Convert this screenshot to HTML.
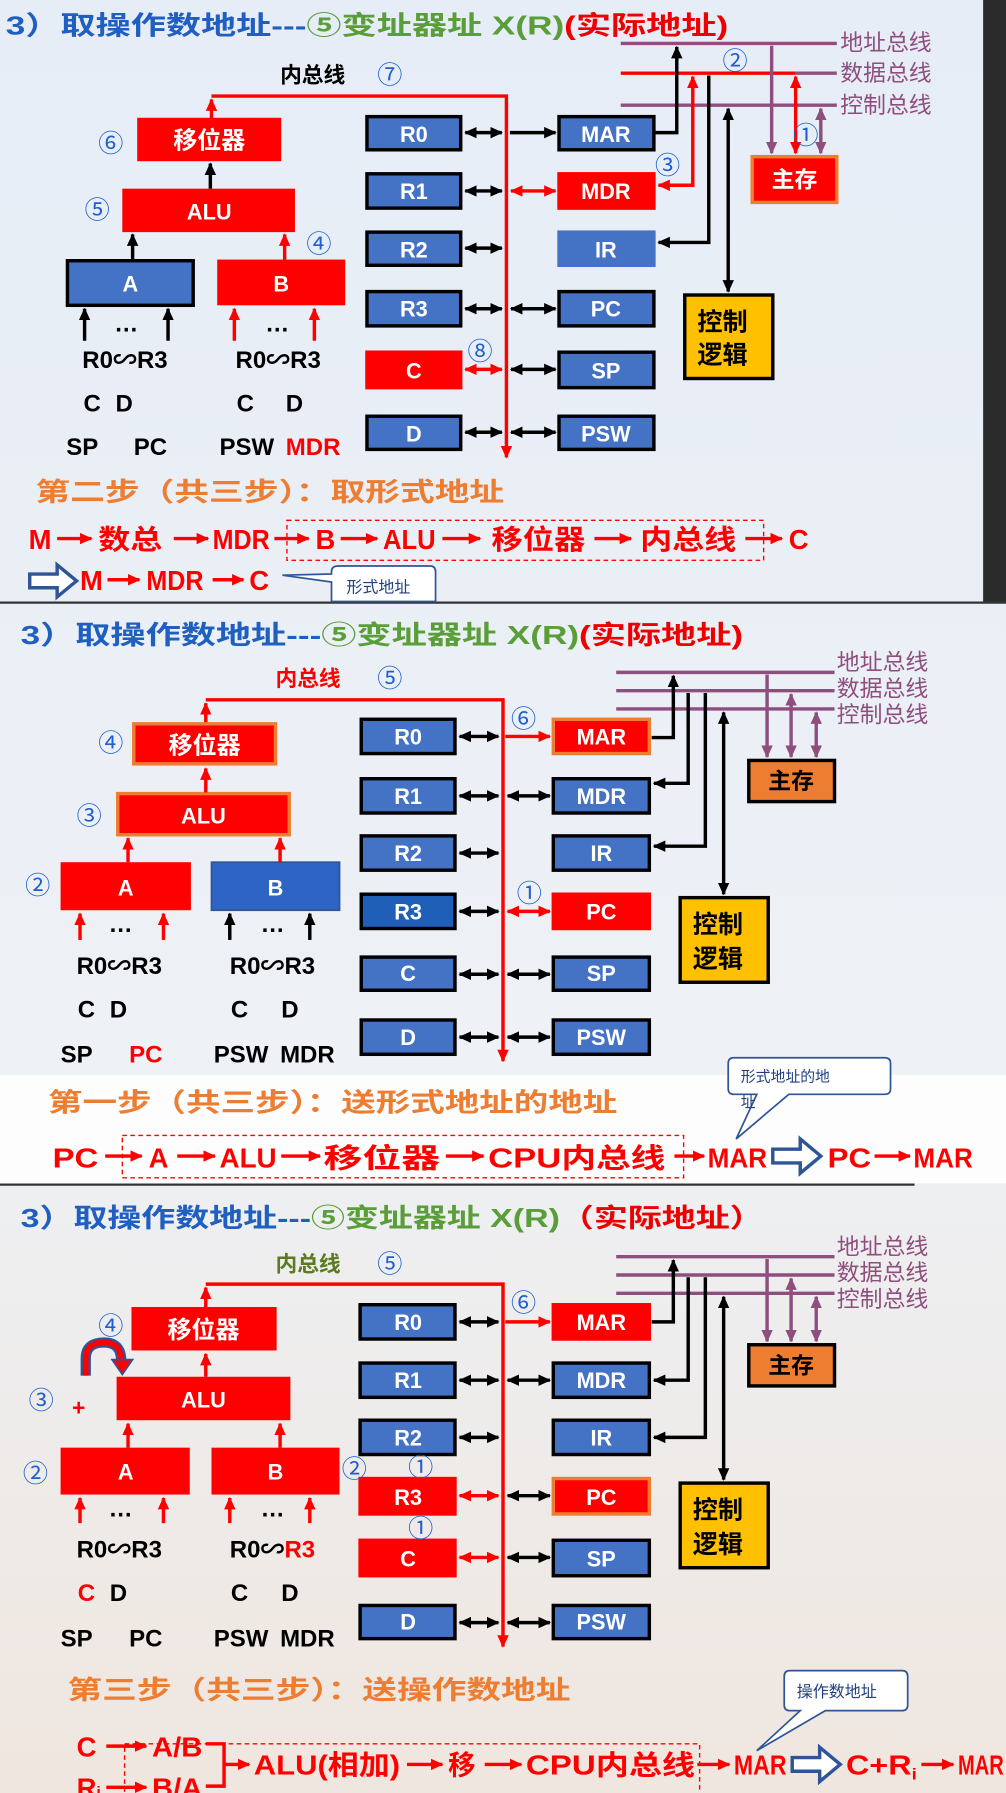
<!DOCTYPE html>
<html><head><meta charset="utf-8"><style>
html,body{margin:0;padding:0;width:1006px;height:1793px;overflow:hidden;background:#eef2f7}
svg{display:block}
text{font-family:"Liberation Sans","Noto Sans CJK SC",sans-serif}
.rg{fill:#fff;font-size:19px;font-weight:bold;text-anchor:middle}
.bl{fill:#1f5fd0;font-size:22px;font-family:"Noto Sans CJK SC","DejaVu Sans",sans-serif}
.lb{font-size:21px;font-weight:bold;fill:#000}
.bus{fill:#8e4f7e;font-size:20px}
.fl{fill:#f00;font-weight:bold;font-size:24px}
</style></head><body>
<svg width="1006" height="1793" viewBox="0 0 880 1568" preserveAspectRatio="none" xmlns="http://www.w3.org/2000/svg">
<defs>
<linearGradient id="bg" x1="0" y1="0" x2="0" y2="1"><stop offset="0" stop-color="#e6edf7"/><stop offset="0.6" stop-color="#eef1f5"/><stop offset="1" stop-color="#efe6df"/></linearGradient>
<marker id="k" markerUnits="userSpaceOnUse" markerWidth="12" markerHeight="12" refX="10" refY="6" orient="auto-start-reverse"><path d="M0,1 L11,6 L0,11 Z" fill="#000"/></marker>
<marker id="r" markerUnits="userSpaceOnUse" markerWidth="12" markerHeight="12" refX="10" refY="6" orient="auto-start-reverse"><path d="M0,1 L11,6 L0,11 Z" fill="#f00"/></marker>
<marker id="p" markerUnits="userSpaceOnUse" markerWidth="12" markerHeight="12" refX="10" refY="6" orient="auto-start-reverse"><path d="M0,1 L11,6 L0,11 Z" fill="#8e4f7e"/></marker>
</defs>
<rect width="880" height="1568" fill="url(#bg)"/>
<rect x="860" y="0" width="20" height="526" fill="#2a2a2a"/>
<line x1="0" y1="527" x2="880" y2="527" stroke="#333" stroke-width="2"/>
<line x1="0" y1="1036" x2="800" y2="1036" stroke="#333" stroke-width="2"/>

<!-- ================= PANEL 1 ================= -->
<text x="5" y="30" font-size="23" font-weight="bold" textLength="632" lengthAdjust="spacingAndGlyphs"><tspan fill="#1f5fbf">3）取操作数地址---</tspan><tspan fill="#5a9e3a">⑤变址器址 X(R)</tspan><tspan fill="#e00">(实际地址)</tspan></text>
<g stroke-width="3" fill="none">
<line x1="543" y1="38" x2="732" y2="38" stroke="#8e4f7e"/>
<line x1="543" y1="64" x2="696" y2="64" stroke="#f00"/>
<line x1="696" y1="64" x2="732" y2="64" stroke="#8e4f7e"/>
<line x1="543" y1="92" x2="732" y2="92" stroke="#8e4f7e"/>
<polyline points="573,116 592,116 592,41" stroke="#000" marker-end="url(#k)"/>
<polyline points="576,162 606,162 606,67" stroke="#f00" marker-start="url(#r)" marker-end="url(#r)"/>
<polyline points="620,66 620,212 576,212" stroke="#000" marker-end="url(#k)"/>
<line x1="637" y1="95" x2="637" y2="255" stroke="#000" marker-start="url(#k)" marker-end="url(#k)"/>
<line x1="675" y1="40" x2="675" y2="134" stroke="#8e4f7e" marker-end="url(#p)"/>
<line x1="696" y1="67" x2="696" y2="134" stroke="#f00" marker-start="url(#r)" marker-end="url(#r)"/>
<line x1="718" y1="95" x2="718" y2="134" stroke="#8e4f7e" marker-start="url(#p)" marker-end="url(#p)"/>
<line x1="185" y1="104" x2="185" y2="87" stroke="#f00" marker-end="url(#r)"/>
<polyline points="185,84 443,84 443,400" stroke="#f00" marker-end="url(#r)"/>
</g>
<text x="735" y="44" class="bus">地址总线</text><text x="735" y="71" class="bus">数据总线</text><text x="735" y="99" class="bus">控制总线</text>
<rect x="658" y="137" width="74" height="40" fill="#f00" stroke="#ed7d31" stroke-width="3"/><text x="695" y="164" fill="#fff" font-size="20" text-anchor="middle" font-weight="bold">主存</text>
<rect x="599" y="258" width="77" height="73" fill="#ffc000" stroke="#000" stroke-width="3"/><text x="610" y="289" font-size="22" font-weight="bold">控制</text><text x="610" y="318" font-size="22" font-weight="bold">逻辑</text>
<text x="632" y="61" class="bl">②</text><text x="573" y="152" class="bl">③</text><text x="694" y="126" class="bl">①</text>
<g stroke="#000" stroke-width="3">
<rect x="321" y="102" width="82" height="29" fill="#4472c4"/><rect x="321" y="152" width="82" height="30" fill="#4472c4"/><rect x="321" y="203" width="82" height="29" fill="#4472c4"/><rect x="321" y="255" width="82" height="30" fill="#4472c4"/><rect x="321" y="308" width="82" height="31" fill="#f00" stroke="#f00"/><rect x="321" y="364" width="82" height="29" fill="#4472c4"/>
<rect x="489" y="102" width="83" height="29" fill="#4472c4"/><rect x="489" y="152" width="83" height="30" fill="#f00" stroke="#f00"/><rect x="489" y="203" width="83" height="29" fill="#4472c4" stroke="#4472c4"/><rect x="489" y="255" width="83" height="30" fill="#4472c4"/><rect x="489" y="308" width="83" height="31" fill="#4472c4"/><rect x="489" y="364" width="83" height="29" fill="#4472c4"/>
</g>
<text x="362" y="124" class="rg">R0</text><text x="362" y="174" class="rg">R1</text><text x="362" y="225" class="rg">R2</text><text x="362" y="277" class="rg">R3</text><text x="362" y="331" class="rg">C</text><text x="362" y="386" class="rg">D</text>
<text x="530" y="124" class="rg">MAR</text><text x="530" y="174" class="rg">MDR</text><text x="530" y="225" class="rg">IR</text><text x="530" y="277" class="rg">PC</text><text x="530" y="331" class="rg">SP</text><text x="530" y="386" class="rg">PSW</text>
<g stroke-width="3">
<line x1="407" y1="116" x2="439" y2="116" stroke="#000" marker-start="url(#k)" marker-end="url(#k)"/>
<line x1="407" y1="167" x2="439" y2="167" stroke="#000" marker-start="url(#k)" marker-end="url(#k)"/>
<line x1="407" y1="217" x2="439" y2="217" stroke="#000" marker-start="url(#k)" marker-end="url(#k)"/>
<line x1="407" y1="270" x2="439" y2="270" stroke="#000" marker-start="url(#k)" marker-end="url(#k)"/>
<line x1="407" y1="323" x2="439" y2="323" stroke="#f00" marker-start="url(#r)" marker-end="url(#r)"/>
<line x1="407" y1="378" x2="439" y2="378" stroke="#000" marker-start="url(#k)" marker-end="url(#k)"/>
<line x1="446" y1="116" x2="486" y2="116" stroke="#000" marker-end="url(#k)"/>
<line x1="447" y1="167" x2="486" y2="167" stroke="#f00" marker-start="url(#r)" marker-end="url(#r)"/>
<line x1="447" y1="270" x2="486" y2="270" stroke="#000" marker-start="url(#k)" marker-end="url(#k)"/>
<line x1="447" y1="323" x2="486" y2="323" stroke="#000" marker-start="url(#k)" marker-end="url(#k)"/>
<line x1="447" y1="378" x2="486" y2="378" stroke="#000" marker-start="url(#k)" marker-end="url(#k)"/>
</g>
<rect x="120" y="103" width="126" height="38" fill="#f00"/><text x="183" y="130" fill="#fff" font-size="21" text-anchor="middle" font-weight="bold">移位器</text>
<rect x="107" y="165" width="151" height="38" fill="#f00"/><text x="183" y="192" class="rg">ALU</text>
<rect x="59" y="228" width="110" height="39" fill="#4472c4" stroke="#000" stroke-width="3"/><text x="114" y="255" class="rg">A</text>
<rect x="190" y="227" width="112" height="40" fill="#f00"/><text x="246" y="255" class="rg">B</text>
<g stroke-width="3">
<line x1="184" y1="165" x2="184" y2="143" stroke="#000" marker-end="url(#k)"/>
<line x1="116" y1="227" x2="116" y2="205" stroke="#000" marker-end="url(#k)"/>
<line x1="249" y1="227" x2="249" y2="205" stroke="#f00" marker-end="url(#r)"/>
<line x1="74" y1="298" x2="74" y2="270" stroke="#000" marker-end="url(#k)"/>
<line x1="147" y1="298" x2="147" y2="270" stroke="#000" marker-end="url(#k)"/>
<line x1="205" y1="298" x2="205" y2="270" stroke="#f00" marker-end="url(#r)"/>
<line x1="275" y1="298" x2="275" y2="270" stroke="#f00" marker-end="url(#r)"/>
</g>
<text x="100" y="290" class="lb">…</text><text x="232" y="290" class="lb">…</text>
<text x="72" y="322" class="lb">R0∽R3</text><text x="206" y="322" class="lb">R0∽R3</text>
<text x="73" y="360" class="lb">C</text><text x="101" y="360" class="lb">D</text><text x="207" y="360" class="lb">C</text><text x="250" y="360" class="lb">D</text>
<text x="58" y="398" class="lb">SP</text><text x="117" y="398" class="lb">PC</text><text x="192" y="398" class="lb">PSW</text><text x="250" y="398" class="lb" style="fill:#f00">MDR</text>
<text x="86" y="133" class="bl">⑥</text><text x="74" y="191" class="bl">⑤</text><text x="268" y="221" class="bl">④</text><text x="409" y="315" class="bl">⑧</text>
<text x="245" y="72" font-size="19" font-weight="bold">内总线</text><text x="330" y="73" class="bl">⑦</text>
<text x="31" y="438" fill="#ed7d31" font-size="23" font-weight="bold" textLength="410" lengthAdjust="spacingAndGlyphs">第二步（共三步）：取形式地址</text>
<rect x="251" y="455" width="417" height="35" fill="none" stroke="#f00" stroke-width="1.2" stroke-dasharray="4,3"/>
<text x="25" y="480" class="fl">M</text><text x="86" y="480" class="fl" textLength="56" lengthAdjust="spacingAndGlyphs">数总</text><text x="186" y="480" class="fl" textLength="50" lengthAdjust="spacingAndGlyphs">MDR</text><text x="276" y="480" class="fl">B</text><text x="335" y="480" class="fl" textLength="46" lengthAdjust="spacingAndGlyphs">ALU</text><text x="430" y="480" class="fl" textLength="82" lengthAdjust="spacingAndGlyphs">移位器</text><text x="560" y="480" class="fl" textLength="84" lengthAdjust="spacingAndGlyphs">内总线</text><text x="690" y="480" class="fl">C</text>
<text x="70" y="516" class="fl">M</text><text x="128" y="516" class="fl" textLength="50" lengthAdjust="spacingAndGlyphs">MDR</text><text x="218" y="516" class="fl">C</text>
<g stroke="#f00" stroke-width="3">
<line x1="50" y1="471" x2="80" y2="471" marker-end="url(#r)"/><line x1="152" y1="471" x2="182" y2="471" marker-end="url(#r)"/><line x1="240" y1="471" x2="270" y2="471" marker-end="url(#r)"/><line x1="298" y1="471" x2="330" y2="471" marker-end="url(#r)"/><line x1="387" y1="471" x2="420" y2="471" marker-end="url(#r)"/><line x1="520" y1="471" x2="552" y2="471" marker-end="url(#r)"/><line x1="652" y1="471" x2="684" y2="471" marker-end="url(#r)"/>
<line x1="94" y1="507" x2="122" y2="507" marker-end="url(#r)"/><line x1="186" y1="507" x2="213" y2="507" marker-end="url(#r)"/>
</g>
<polygon points="26,502 50,502 50,494 67,508 50,522 50,514 26,514" fill="#fff" stroke="#2f5597" stroke-width="3"/>
<path d="M296,495 H376 Q381,495 381,500 V526 H290 V509 L247,503 L290,502 V500 Q290,495 296,495 Z" fill="#fff" stroke="#2f5597" stroke-width="1.5"/>
<text x="303" y="518" fill="#1f3f7f" font-size="14">形式地址</text>

<!-- ================= PANEL 2 ================= -->
<text x="18" y="563" font-size="23" font-weight="bold" textLength="632" lengthAdjust="spacingAndGlyphs"><tspan fill="#1f5fbf">3）取操作数地址---</tspan><tspan fill="#5a9e3a">⑤变址器址 X(R)</tspan><tspan fill="#e00">(实际地址)</tspan></text>
<g stroke-width="3" fill="none">
<line x1="539" y1="588" x2="730" y2="588" stroke="#8e4f7e"/>
<line x1="539" y1="604" x2="730" y2="604" stroke="#8e4f7e"/>
<line x1="539" y1="620" x2="730" y2="620" stroke="#8e4f7e"/>
<polyline points="570,645 589,645 589,591" stroke="#000" marker-end="url(#k)"/>
<polyline points="602,606 602,685 572,685" stroke="#000" marker-end="url(#k)"/>
<polyline points="617,606 617,740 572,740" stroke="#000" marker-end="url(#k)"/>
<line x1="633" y1="623" x2="633" y2="782" stroke="#000" marker-start="url(#k)" marker-end="url(#k)"/>
<line x1="671" y1="590" x2="671" y2="662" stroke="#8e4f7e" marker-end="url(#p)"/>
<line x1="692" y1="607" x2="692" y2="662" stroke="#8e4f7e" marker-start="url(#p)" marker-end="url(#p)"/>
<line x1="714" y1="623" x2="714" y2="662" stroke="#8e4f7e" marker-start="url(#p)" marker-end="url(#p)"/>
<line x1="180" y1="632" x2="180" y2="615" stroke="#f00" marker-end="url(#r)"/>
<polyline points="180,612 440,612 440,928" stroke="#f00" marker-end="url(#r)"/>
</g>
<text x="732" y="586" class="bus">地址总线</text><text x="732" y="609" class="bus">数据总线</text><text x="732" y="632" class="bus">控制总线</text>
<rect x="655" y="665" width="75" height="36" fill="#ed7d31" stroke="#000" stroke-width="3"/><text x="692" y="690" font-size="20" text-anchor="middle" font-weight="bold">主存</text>
<rect x="595" y="785" width="77" height="74" fill="#ffc000" stroke="#000" stroke-width="3"/><text x="606" y="816" font-size="22" font-weight="bold">控制</text><text x="606" y="846" font-size="22" font-weight="bold">逻辑</text>
<g stroke="#000" stroke-width="3">
<rect x="316" y="629" width="82" height="30" fill="#4472c4"/><rect x="316" y="681" width="82" height="30" fill="#4472c4"/><rect x="316" y="731" width="82" height="30" fill="#4472c4"/><rect x="316" y="782" width="82" height="30" fill="#1f5fb8"/><rect x="316" y="837" width="82" height="29" fill="#4472c4"/><rect x="316" y="892" width="82" height="30" fill="#4472c4"/>
<rect x="484" y="629" width="84" height="30" fill="#f00" stroke="#ed7d31"/><rect x="484" y="681" width="84" height="30" fill="#4472c4"/><rect x="484" y="731" width="84" height="30" fill="#4472c4"/><rect x="484" y="782" width="84" height="30" fill="#f00" stroke="#f00"/><rect x="484" y="837" width="84" height="29" fill="#4472c4"/><rect x="484" y="892" width="84" height="30" fill="#4472c4"/>
</g>
<text x="357" y="651" class="rg">R0</text><text x="357" y="703" class="rg">R1</text><text x="357" y="753" class="rg">R2</text><text x="357" y="804" class="rg">R3</text><text x="357" y="858" class="rg">C</text><text x="357" y="914" class="rg">D</text>
<text x="526" y="651" class="rg">MAR</text><text x="526" y="703" class="rg">MDR</text><text x="526" y="753" class="rg">IR</text><text x="526" y="804" class="rg">PC</text><text x="526" y="858" class="rg">SP</text><text x="526" y="914" class="rg">PSW</text>
<g stroke-width="3">
<line x1="402" y1="644" x2="436" y2="644" stroke="#000" marker-start="url(#k)" marker-end="url(#k)"/>
<line x1="402" y1="696" x2="436" y2="696" stroke="#000" marker-start="url(#k)" marker-end="url(#k)"/>
<line x1="402" y1="746" x2="436" y2="746" stroke="#000" marker-start="url(#k)" marker-end="url(#k)"/>
<line x1="402" y1="797" x2="436" y2="797" stroke="#000" marker-start="url(#k)" marker-end="url(#k)"/>
<line x1="402" y1="852" x2="436" y2="852" stroke="#000" marker-start="url(#k)" marker-end="url(#k)"/>
<line x1="402" y1="907" x2="436" y2="907" stroke="#000" marker-start="url(#k)" marker-end="url(#k)"/>
<line x1="442" y1="644" x2="481" y2="644" stroke="#f00" marker-end="url(#r)"/>
<line x1="444" y1="696" x2="481" y2="696" stroke="#000" marker-start="url(#k)" marker-end="url(#k)"/>
<line x1="444" y1="797" x2="481" y2="797" stroke="#f00" marker-start="url(#r)" marker-end="url(#r)"/>
<line x1="444" y1="852" x2="481" y2="852" stroke="#000" marker-start="url(#k)" marker-end="url(#k)"/>
<line x1="444" y1="907" x2="481" y2="907" stroke="#000" marker-start="url(#k)" marker-end="url(#k)"/>
</g>
<rect x="117" y="633" width="124" height="35" fill="#f00" stroke="#ed7d31" stroke-width="3"/><text x="179" y="659" fill="#fff" font-size="21" text-anchor="middle" font-weight="bold">移位器</text>
<rect x="103" y="694" width="150" height="36" fill="#f00" stroke="#ed7d31" stroke-width="3"/><text x="178" y="720" class="rg">ALU</text>
<rect x="53" y="754" width="114" height="42" fill="#f00"/><text x="110" y="783" class="rg">A</text>
<rect x="185" y="754" width="112" height="42" fill="#2e64c4" stroke="#2f5597" stroke-width="1.5"/><text x="241" y="783" class="rg">B</text>
<g stroke-width="3">
<line x1="180" y1="693" x2="180" y2="672" stroke="#f00" marker-end="url(#r)"/>
<line x1="112" y1="754" x2="112" y2="733" stroke="#f00" marker-end="url(#r)"/>
<line x1="245" y1="754" x2="245" y2="733" stroke="#f00" marker-end="url(#r)"/>
<line x1="70" y1="822" x2="70" y2="799" stroke="#f00" marker-end="url(#r)"/>
<line x1="143" y1="822" x2="143" y2="799" stroke="#f00" marker-end="url(#r)"/>
<line x1="201" y1="822" x2="201" y2="799" stroke="#000" marker-end="url(#k)"/>
<line x1="271" y1="822" x2="271" y2="799" stroke="#000" marker-end="url(#k)"/>
</g>
<text x="95" y="815" class="lb">…</text><text x="228" y="815" class="lb">…</text>
<text x="67" y="852" class="lb">R0∽R3</text><text x="201" y="852" class="lb">R0∽R3</text>
<text x="68" y="890" class="lb">C</text><text x="96" y="890" class="lb">D</text><text x="202" y="890" class="lb">C</text><text x="246" y="890" class="lb">D</text>
<text x="53" y="929" class="lb">SP</text><text x="113" y="929" class="lb" style="fill:#f00">PC</text><text x="187" y="929" class="lb">PSW</text><text x="245" y="929" class="lb">MDR</text>
<text x="86" y="657" class="bl">④</text><text x="67" y="721" class="bl">③</text><text x="22" y="782" class="bl">②</text><text x="447" y="636" class="bl">⑥</text><text x="452" y="789" class="bl">①</text>
<text x="241" y="600" fill="#f00" font-size="19" font-weight="bold">内总线</text><text x="330" y="601" class="bl">⑤</text>
<rect x="0" y="940" width="880" height="95" fill="#fff" opacity="0.85"/>
<text x="42" y="972" fill="#ed7d31" font-size="23" font-weight="bold" textLength="498" lengthAdjust="spacingAndGlyphs">第一步（共三步）：送形式地址的地址</text>
<rect x="107" y="993" width="491" height="37" fill="none" stroke="#f00" stroke-width="1.2" stroke-dasharray="4,3"/>
<text x="46" y="1021" class="fl" font-size="27" textLength="40" lengthAdjust="spacingAndGlyphs">PC</text><text x="130" y="1021" class="fl" font-size="27">A</text><text x="192" y="1021" class="fl" font-size="27" textLength="50" lengthAdjust="spacingAndGlyphs">ALU</text><text x="283" y="1021" class="fl" font-size="27" textLength="102" lengthAdjust="spacingAndGlyphs">移位器</text><text x="427" y="1021" class="fl" font-size="27" textLength="155" lengthAdjust="spacingAndGlyphs">CPU内总线</text><text x="619" y="1021" class="fl" font-size="27" textLength="52" lengthAdjust="spacingAndGlyphs">MAR</text><text x="724" y="1021" class="fl" font-size="27" textLength="38" lengthAdjust="spacingAndGlyphs">PC</text><text x="799" y="1021" class="fl" font-size="27" textLength="52" lengthAdjust="spacingAndGlyphs">MAR</text>
<g stroke="#f00" stroke-width="3">
<line x1="92" y1="1011" x2="124" y2="1011" marker-end="url(#r)"/><line x1="155" y1="1011" x2="188" y2="1011" marker-end="url(#r)"/><line x1="246" y1="1011" x2="280" y2="1011" marker-end="url(#r)"/><line x1="390" y1="1011" x2="423" y2="1011" marker-end="url(#r)"/><line x1="590" y1="1011" x2="616" y2="1011" marker-end="url(#r)"/><line x1="765" y1="1011" x2="796" y2="1011" marker-end="url(#r)"/>
</g>
<polygon points="676,1005 700,1005 700,996 718,1011 700,1026 700,1017 676,1017" fill="#fff" stroke="#2f5597" stroke-width="3"/>
<path d="M642,925 H774 Q779,925 779,930 V952 Q779,957 774,957 H690 L644,996 L662,957 H642 Q637,957 637,952 V930 Q637,925 642,925 Z" fill="#fff" stroke="#2f5597" stroke-width="1.5"/>
<text x="648" y="946" fill="#1f3f7f" font-size="13">形式地址的地</text><text x="648" y="968" fill="#1f3f7f" font-size="13">址</text>

<!-- ================= PANEL 3 ================= -->
<text x="18" y="1073" font-size="23" font-weight="bold" textLength="650" lengthAdjust="spacingAndGlyphs"><tspan fill="#1f5fbf">3）取操作数地址---</tspan><tspan fill="#5a9e3a">⑤变址器址 X(R)</tspan><tspan fill="#e00">（实际地址）</tspan></text>
<g stroke-width="3" fill="none">
<line x1="539" y1="1099" x2="730" y2="1099" stroke="#8e4f7e"/>
<line x1="539" y1="1115" x2="730" y2="1115" stroke="#8e4f7e"/>
<line x1="539" y1="1131" x2="730" y2="1131" stroke="#8e4f7e"/>
<polyline points="570,1156 589,1156 589,1102" stroke="#000" marker-end="url(#k)"/>
<polyline points="602,1117 602,1207 572,1207" stroke="#000" marker-end="url(#k)"/>
<polyline points="617,1117 617,1257 572,1257" stroke="#000" marker-end="url(#k)"/>
<line x1="633" y1="1134" x2="633" y2="1294" stroke="#000" marker-start="url(#k)" marker-end="url(#k)"/>
<line x1="671" y1="1101" x2="671" y2="1173" stroke="#8e4f7e" marker-end="url(#p)"/>
<line x1="692" y1="1118" x2="692" y2="1173" stroke="#8e4f7e" marker-start="url(#p)" marker-end="url(#p)"/>
<line x1="714" y1="1134" x2="714" y2="1173" stroke="#8e4f7e" marker-start="url(#p)" marker-end="url(#p)"/>
<line x1="180" y1="1143" x2="180" y2="1126" stroke="#f00" marker-end="url(#r)"/>
<polyline points="180,1123 440,1123 440,1440" stroke="#f00" marker-end="url(#r)"/>
</g>
<text x="732" y="1097" class="bus">地址总线</text><text x="732" y="1120" class="bus">数据总线</text><text x="732" y="1143" class="bus">控制总线</text>
<rect x="655" y="1176" width="75" height="36" fill="#ed7d31" stroke="#000" stroke-width="3"/><text x="692" y="1201" font-size="20" text-anchor="middle" font-weight="bold">主存</text>
<rect x="595" y="1297" width="77" height="74" fill="#ffc000" stroke="#000" stroke-width="3"/><text x="606" y="1328" font-size="22" font-weight="bold">控制</text><text x="606" y="1358" font-size="22" font-weight="bold">逻辑</text>
<g stroke="#000" stroke-width="3">
<rect x="315" y="1141" width="83" height="30" fill="#4472c4"/><rect x="315" y="1192" width="83" height="30" fill="#4472c4"/><rect x="315" y="1242" width="83" height="30" fill="#4472c4"/><rect x="315" y="1293" width="83" height="31" fill="#f00" stroke="#f00"/><rect x="315" y="1347" width="83" height="31" fill="#f00" stroke="#f00"/><rect x="315" y="1404" width="83" height="29" fill="#4472c4"/>
<rect x="484" y="1141" width="84" height="30" fill="#f00" stroke="#f00"/><rect x="484" y="1192" width="84" height="30" fill="#4472c4"/><rect x="484" y="1242" width="84" height="30" fill="#4472c4"/><rect x="484" y="1293" width="84" height="31" fill="#f00" stroke="#ed7d31"/><rect x="484" y="1347" width="84" height="31" fill="#4472c4"/><rect x="484" y="1404" width="84" height="29" fill="#4472c4"/>
</g>
<text x="357" y="1163" class="rg">R0</text><text x="357" y="1214" class="rg">R1</text><text x="357" y="1264" class="rg">R2</text><text x="357" y="1316" class="rg">R3</text><text x="357" y="1370" class="rg">C</text><text x="357" y="1425" class="rg">D</text>
<text x="526" y="1163" class="rg">MAR</text><text x="526" y="1214" class="rg">MDR</text><text x="526" y="1264" class="rg">IR</text><text x="526" y="1316" class="rg">PC</text><text x="526" y="1370" class="rg">SP</text><text x="526" y="1425" class="rg">PSW</text>
<g stroke-width="3">
<line x1="402" y1="1156" x2="436" y2="1156" stroke="#000" marker-start="url(#k)" marker-end="url(#k)"/>
<line x1="402" y1="1207" x2="436" y2="1207" stroke="#000" marker-start="url(#k)" marker-end="url(#k)"/>
<line x1="402" y1="1257" x2="436" y2="1257" stroke="#000" marker-start="url(#k)" marker-end="url(#k)"/>
<line x1="402" y1="1308" x2="436" y2="1308" stroke="#f00" marker-start="url(#r)" marker-end="url(#r)"/>
<line x1="402" y1="1362" x2="436" y2="1362" stroke="#f00" marker-start="url(#r)" marker-end="url(#r)"/>
<line x1="402" y1="1419" x2="436" y2="1419" stroke="#000" marker-start="url(#k)" marker-end="url(#k)"/>
<line x1="442" y1="1156" x2="481" y2="1156" stroke="#f00" marker-end="url(#r)"/>
<line x1="444" y1="1207" x2="481" y2="1207" stroke="#000" marker-start="url(#k)" marker-end="url(#k)"/>
<line x1="444" y1="1308" x2="481" y2="1308" stroke="#000" marker-start="url(#k)" marker-end="url(#k)"/>
<line x1="444" y1="1362" x2="481" y2="1362" stroke="#000" marker-start="url(#k)" marker-end="url(#k)"/>
<line x1="444" y1="1419" x2="481" y2="1419" stroke="#000" marker-start="url(#k)" marker-end="url(#k)"/>
</g>
<rect x="115" y="1143" width="127" height="38" fill="#f00"/><text x="178" y="1170" fill="#fff" font-size="21" text-anchor="middle" font-weight="bold">移位器</text>
<rect x="102" y="1204" width="152" height="38" fill="#f00"/><text x="178" y="1231" class="rg">ALU</text>
<rect x="53" y="1266" width="113" height="41" fill="#f00"/><text x="110" y="1294" class="rg">A</text>
<rect x="185" y="1266" width="112" height="41" fill="#f00"/><text x="241" y="1294" class="rg">B</text>
<path d="M75,1203 V1188 Q75,1174 91,1174 Q106,1174 106,1190" fill="none" stroke="#2f5597" stroke-width="9"/>
<path d="M75,1203 V1188 Q75,1174 91,1174 Q106,1174 106,1190" fill="none" stroke="#f00" stroke-width="5"/>
<polygon points="98,1189 116,1189 107,1202" fill="#f00" stroke="#2f5597" stroke-width="1.5"/>
<g stroke-width="3">
<line x1="180" y1="1204" x2="180" y2="1184" stroke="#f00" marker-end="url(#r)"/>
<line x1="112" y1="1266" x2="112" y2="1245" stroke="#f00" marker-end="url(#r)"/>
<line x1="245" y1="1266" x2="245" y2="1245" stroke="#f00" marker-end="url(#r)"/>
<line x1="70" y1="1332" x2="70" y2="1310" stroke="#f00" marker-end="url(#r)"/>
<line x1="143" y1="1332" x2="143" y2="1310" stroke="#f00" marker-end="url(#r)"/>
<line x1="201" y1="1332" x2="201" y2="1310" stroke="#f00" marker-end="url(#r)"/>
<line x1="271" y1="1332" x2="271" y2="1310" stroke="#f00" marker-end="url(#r)"/>
</g>
<text x="95" y="1326" class="lb">…</text><text x="228" y="1326" class="lb">…</text>
<text x="67" y="1362" class="lb">R0∽R3</text><text x="201" y="1362" class="lb">R0∽<tspan style="fill:#f00">R3</tspan></text>
<text x="68" y="1400" class="lb" style="fill:#f00">C</text><text x="96" y="1400" class="lb">D</text><text x="202" y="1400" class="lb">C</text><text x="246" y="1400" class="lb">D</text>
<text x="53" y="1440" class="lb">SP</text><text x="113" y="1440" class="lb">PC</text><text x="187" y="1440" class="lb">PSW</text><text x="245" y="1440" class="lb">MDR</text>
<text x="86" y="1167" class="bl">④</text><text x="25" y="1232" class="bl">③</text><text x="63" y="1238" fill="#f00" font-size="20" font-weight="bold">+</text><text x="20" y="1296" class="bl">②</text><text x="299" y="1292" class="bl">②</text><text x="357" y="1291" class="bl">①</text><text x="357" y="1344" class="bl">①</text><text x="447" y="1147" class="bl">⑥</text>
<text x="241" y="1112" fill="#5c7a1e" font-size="19" font-weight="bold">内总线</text><text x="330" y="1113" class="bl">⑤</text>
<text x="59" y="1486" fill="#ed7d31" font-size="23" font-weight="bold" textLength="440" lengthAdjust="spacingAndGlyphs">第三步（共三步）：送操作数地址</text>
<path d="M691,1461 H789 Q794,1461 794,1466 V1491 Q794,1496 789,1496 H722 L662,1531 L700,1496 H691 Q686,1496 686,1491 V1466 Q686,1461 691,1461 Z" fill="#fff" stroke="#2f5597" stroke-width="1.5"/>
<text x="697" y="1484" fill="#1f3f7f" font-size="14">操作数地址</text>
<rect x="109" y="1525" width="503" height="50" fill="none" stroke="#f00" stroke-width="1.2" stroke-dasharray="4,3"/>
<text x="67" y="1536" class="fl" font-size="26">C</text><text x="133" y="1536" class="fl" font-size="26" textLength="44" lengthAdjust="spacingAndGlyphs">A/B</text>
<text x="67" y="1572" class="fl" font-size="26">R<tspan font-size="14">i</tspan></text><text x="133" y="1572" class="fl" font-size="26" textLength="44" lengthAdjust="spacingAndGlyphs">B/A</text>
<text x="222" y="1552" class="fl" font-size="26" textLength="128" lengthAdjust="spacingAndGlyphs">ALU(相加)</text><text x="392" y="1552" class="fl" font-size="26">移</text><text x="460" y="1552" class="fl" font-size="26" textLength="148" lengthAdjust="spacingAndGlyphs">CPU内总线</text><text x="642" y="1552" class="fl" font-size="26" textLength="46" lengthAdjust="spacingAndGlyphs">MAR</text><text x="740" y="1552" class="fl" font-size="26" textLength="62" lengthAdjust="spacingAndGlyphs">C+R<tspan font-size="14" dy="4">i</tspan></text><text x="838" y="1552" class="fl" font-size="26" textLength="40" lengthAdjust="spacingAndGlyphs">MAR</text>
<g stroke="#f00" stroke-width="3" fill="none">
<line x1="93" y1="1527" x2="128" y2="1527" marker-end="url(#r)"/><line x1="93" y1="1563" x2="128" y2="1563" marker-end="url(#r)"/>
<polyline points="180,1525 196,1525 196,1562 180,1562"/>
<line x1="196" y1="1543" x2="218" y2="1543" marker-end="url(#r)"/>
<line x1="356" y1="1543" x2="387" y2="1543" marker-end="url(#r)"/><line x1="424" y1="1543" x2="456" y2="1543" marker-end="url(#r)"/><line x1="610" y1="1543" x2="638" y2="1543" marker-end="url(#r)"/><line x1="806" y1="1543" x2="834" y2="1543" marker-end="url(#r)"/>
</g>
<polygon points="693,1537 717,1537 717,1528 735,1543 717,1558 717,1549 693,1549" fill="#fff" stroke="#2f5597" stroke-width="3"/>
</svg>
</body></html>
